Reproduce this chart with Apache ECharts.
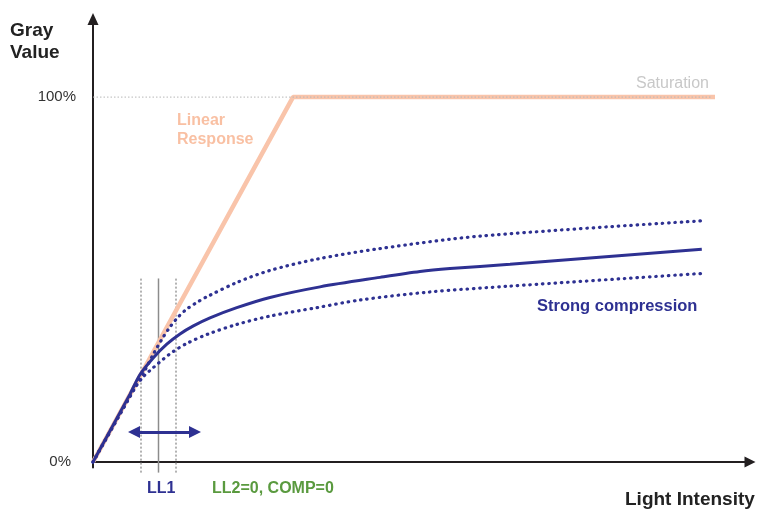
<!DOCTYPE html>
<html>
<head>
	<meta charset="utf-8" />
	<title>Gray value vs light intensity</title>
	<script src="https://cdn.jsdelivr.net/npm/echarts@6/dist/echarts.min.js"></script>
</head>
<body style="margin:0">
	<div id="main" style="width: 767px;height: 510px;"></div>
	<script type="text/javascript">
		// data (x: intensity, saturation reached at 100; y: gray value in %)
		var linearResponse = [[0, 0], [100, 100], [311, 100]];
		var saturationGuide = [[0, 100], [309.5, 100]];
		var strongCurve = [[0, 0], [18.5, 18.6], [23.5, 24], [30.2, 28.6], [36.9, 32.3], [43.5, 35.1], [50.2, 37.3], [58.5, 39.5], [71.9, 42.3], [88.5, 45.1], [113.5, 48.0], [143.5, 50.6], [163.5, 52.2], [178.5, 53.0], [208.5, 54.2], [304.4, 58.3]];
		var upperCurve = [[0, 0], [26, 25.2], [30.2, 29.6], [34.4, 33.6], [38.5, 37.0], [42.7, 39.8], [46.9, 41.9], [52.7, 44.0], [57.7, 45.5], [71.9, 49.2], [88.5, 52.5], [111.9, 55.6], [143.5, 58.5], [193.5, 61.9], [304.4, 66.1]];
		var lowerCurve = [[0, 0], [20.2, 19.7], [25.2, 23.4], [30.2, 25.9], [35.2, 28.2], [40.2, 30.3], [46.9, 32.5], [57.7, 35.1], [71.9, 37.7], [88.5, 40.0], [111.9, 42.3], [133.5, 44.4], [168.5, 46.6], [208.5, 48.2], [305.2, 51.7]];
		var llMarkers = [24, 32.75, 41.5];   // dotted, solid (LL1), dotted
		var llRange = [-2.9, 50.3];
		var spanX = [20.5, 51];   // arrowhead centres
		var spanY = 8.2;
		var yTicks = [0, 100];

		var blue = '#2e3192';
		var salmon = '#f9c4aa';

		var myChart = echarts.init(document.getElementById('main'));

		function vline(x, dashed) {
			return {
				type: 'line',
				data: [[x, llRange[0]], [x, llRange[1]]],
				symbol: 'none',
				clip: false,
				silent: true,
				z: 1,
				lineStyle: { color: dashed ? '#9a9a9a' : '#8c8c8c', width: 1.5, type: dashed ? [2, 2] : 'solid' }
			};
		}

		var dotStyle = { color: blue, width: 3.2, type: [0.5, 5.8], cap: 'round' };

		var option = {
			animation: false,
			grid: { left: 93, right: 17, top: 19, bottom: 42.5 },
			xAxis: {
				type: 'value',
				min: 0,
				max: 328.5,
				axisLine: {
					onZero: true,
					lineStyle: { color: '#231f20', width: 2 },
					symbol: ['none', 'triangle'],
					symbolSize: [11, 11]
				},
				axisTick: { show: false },
				axisLabel: { show: false },
				splitLine: { show: false }
			},
			yAxis: {
				type: 'value',
				min: -1.5,
				max: 121.4,
				axisLine: {
					lineStyle: { color: '#231f20', width: 2 },
					symbol: ['none', 'triangle'],
					symbolSize: [11, 12]
				},
				axisTick: { show: false },
				splitLine: { show: false },
				axisLabel: {
					customValues: yTicks,
					margin: 17,
					color: '#333',
					fontFamily: 'Liberation Sans',
					fontSize: 15,
					formatter: function (v) {
						return v === 0 ? '{z|0%}' : v + '%';
					},
					rich: { z: { padding: [0, 5, 0, 0], fontSize: 15, color: '#333', fontFamily: 'Liberation Sans' } }
				}
			},
			series: [
				vline(llMarkers[0], true),
				vline(llMarkers[1], false),
				vline(llMarkers[2], true),
				{
					name: 'Linear Response',
					type: 'line',
					data: linearResponse,
					symbol: 'none',
					z: 2,
					lineStyle: { color: salmon, width: 4.5 }
				},
				{
					name: 'Saturation guide',
					type: 'line',
					data: saturationGuide,
					symbol: 'none',
					z: 3,
					lineStyle: { color: '#b8b8b8', width: 1, type: [1.5, 2] }
				},
				{
					name: 'upper',
					type: 'line',
					data: upperCurve,
					smooth: 0.3,
					symbol: 'none',
					z: 4,
					lineStyle: dotStyle
				},
				{
					name: 'lower',
					type: 'line',
					data: lowerCurve,
					smooth: 0.3,
					symbol: 'none',
					z: 4,
					lineStyle: dotStyle
				},
				{
					name: 'Strong compression',
					type: 'line',
					data: strongCurve,
					smooth: 0.3,
					symbol: 'none',
					z: 5,
					lineStyle: { color: blue, width: 3 },
					markLine: {
						silent: true,
						symbol: ['triangle', 'triangle'],
						symbolSize: [12, 12],
						label: { show: false },
						lineStyle: { color: blue, width: 3, type: 'solid' },
						data: [[{ coord: [spanX[0], spanY] }, { coord: [spanX[1], spanY] }]]
					}
				}
			],
			graphic: [
				{ type: 'text', left: 10, top: 20, style: { text: 'Gray\nValue', font: 'bold 19px "Liberation Sans"', lineHeight: 22, fill: '#222' } },
				{ type: 'text', left: 625, top: 490, style: { text: 'Light Intensity', font: 'bold 19px "Liberation Sans"', fill: '#222' } },
				{ type: 'text', left: 177, top: 111, style: { text: 'Linear\nResponse', font: 'bold 16px "Liberation Sans"', lineHeight: 19, fill: '#f9c0a3' } },
				{ type: 'text', left: 636, top: 76, style: { text: 'Saturation', font: '16px "Liberation Sans"', fill: '#c8c8c8' } },
				{ type: 'text', left: 537, top: 298, style: { text: 'Strong compression', font: 'bold 16.5px "Liberation Sans"', fill: blue } },
				{ type: 'text', left: 147, top: 481, style: { text: 'LL1', font: 'bold 16px "Liberation Sans"', fill: blue } },
				{ type: 'text', left: 212, top: 481, style: { text: 'LL2=0, COMP=0', font: 'bold 16px "Liberation Sans"', fill: '#5a9a3f' } }
			]
		};

		myChart.setOption(option);
	</script>
</body>
</html>
